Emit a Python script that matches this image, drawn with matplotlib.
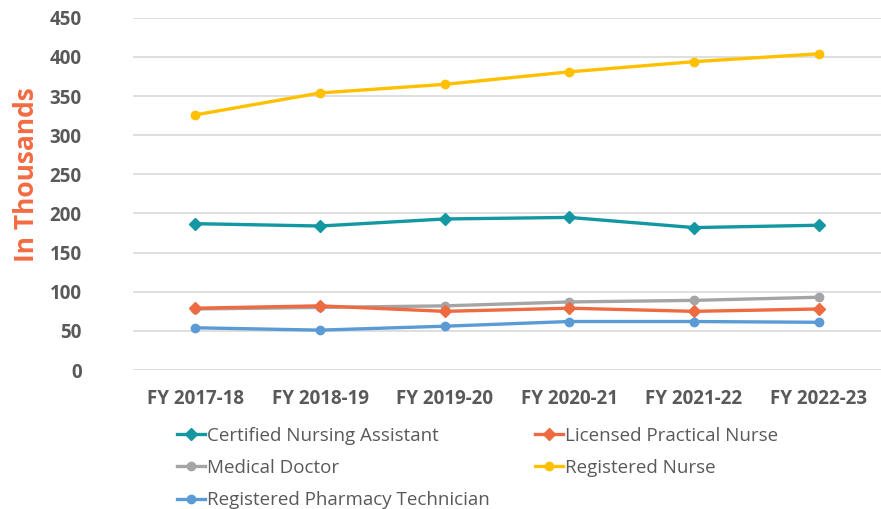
import matplotlib
matplotlib.use("agg")
import matplotlib.pyplot as plt

# Data (in thousands)
years = ["FY 2017-18", "FY 2018-19", "FY 2019-20", "FY 2020-21", "FY 2021-22", "FY 2022-23"]
cna = [187, 184, 193, 195, 182, 185]
lpn = [79, 82, 75, 79, 75, 78]
md = [78, 80, 82, 87, 89, 93]
rn = [326, 354, 365, 381, 394, 404]
rpt = [54, 51, 56, 62, 62, 61]

plt.rcParams['font.family'] = ['Open Sans', 'DejaVu Sans']

fig = plt.figure(figsize=(8.81, 5.09), dpi=100)
ax = fig.add_axes([0.151, 0.273, 0.849, 0.692])

x = range(len(years))
lw = 2.4
ax.plot(x, cna, color="#1297A3", lw=lw, marker="D", ms=6, label="Certified Nursing Assistant")
ax.plot(x, md, color="#A5A5A5", lw=lw, marker="o", ms=6, label="Medical Doctor")
ax.plot(x, rpt, color="#5B9BD5", lw=lw, marker="o", ms=6, label="Registered Pharmacy Technician")
ax.plot(x, lpn, color="#EE6A40", lw=lw, marker="D", ms=6, label="Licensed Practical Nurse")
ax.plot(x, rn, color="#FFC000", lw=lw, marker="o", ms=6, label="Registered Nurse")

ax.set_xlim(-0.5, len(years) - 0.5)
ax.set_ylim(0, 450)
ax.set_yticks(range(0, 451, 50))
ax.set_xticks(list(x))
ax.set_xticklabels(years)
ax.grid(axis="y", color="#D9D9D9", lw=1.2)
ax.set_axisbelow(True)
for s in ax.spines.values():
    s.set_visible(False)
ax.tick_params(length=0, labelsize=13.5, labelcolor="#595959")
for lab in ax.get_xticklabels() + ax.get_yticklabels():
    lab.set_fontweight("bold")
ax.tick_params(axis="y", pad=37)
ax.tick_params(axis="x", pad=14)

fig.text(0.03, 0.656, "In Thousands", rotation=90, color="#F26B43",
         fontsize=19, fontweight="bold", ha="center", va="center")

leg = fig.legend(loc="upper left", bbox_to_anchor=(0.2005, 0.162), ncol=2, frameon=False,
                 fontsize=13.5, labelcolor="#595959", handlelength=1.5, handletextpad=0.1,
                 columnspacing=2.45, labelspacing=0.77, borderaxespad=0, borderpad=0)

fig.savefig("out.png", dpi=100)
